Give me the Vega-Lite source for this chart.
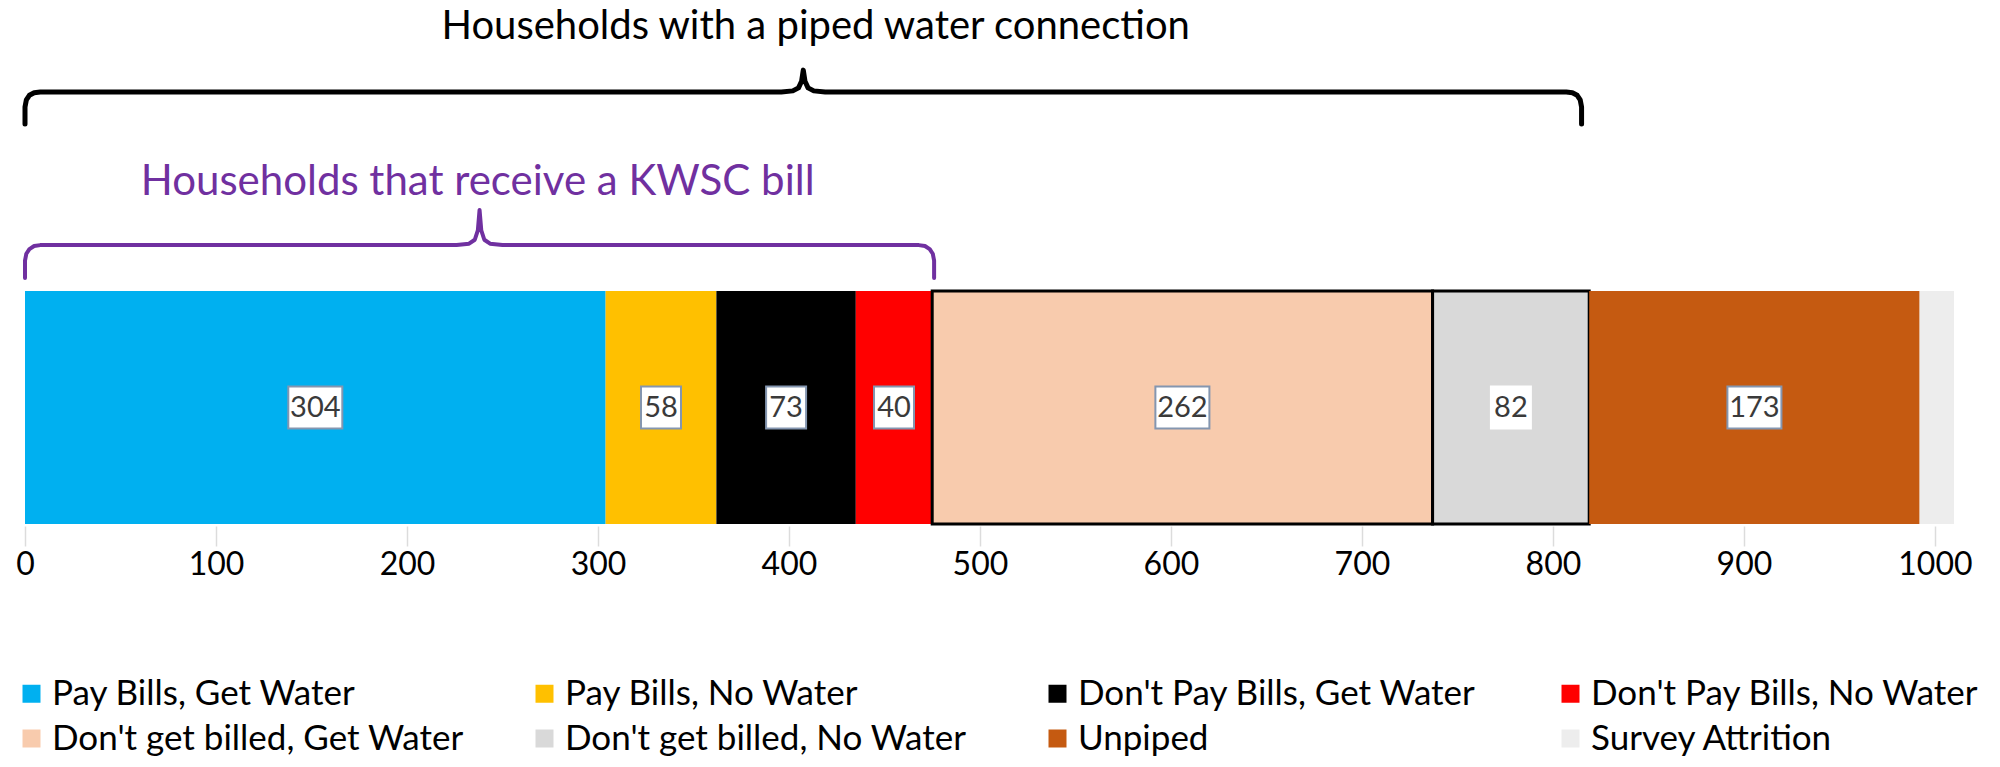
{
  "$schema": "https://vega.github.io/schema/vega-lite/v6.json",
  "width": 1929,
  "height": 524,
  "autosize": {"type": "none"},
  "padding": {"left": 25, "top": 0, "right": 46, "bottom": 243},
  "background": "white",
  "config": {"view": {"stroke": null}, "font": "Lato"},
  "datasets": {
    "segments": [
      {"cat": "Pay Bills, Get Water", "n": 304, "order": 1},
      {"cat": "Pay Bills, No Water", "n": 58, "order": 2},
      {"cat": "Don't Pay Bills, Get Water", "n": 73, "order": 3},
      {"cat": "Don't Pay Bills, No Water", "n": 40, "order": 4},
      {"cat": "Don't get billed, Get Water", "n": 262, "order": 5},
      {"cat": "Don't get billed, No Water", "n": 82, "order": 6},
      {"cat": "Unpiped", "n": 173, "order": 7},
      {"cat": "Survey Attrition", "n": 18, "order": 8}
    ],
    "braces": [
      {"brace": "piped", "i": 1, "x": 0, "lvl": 1.717},
      {"brace": "piped", "i": 2, "x": 0, "lvl": 1.79},
      {"brace": "piped", "i": 3, "x": 0.7, "lvl": 1.82},
      {"brace": "piped", "i": 4, "x": 2.3, "lvl": 1.84},
      {"brace": "piped", "i": 5, "x": 4.8, "lvl": 1.851},
      {"brace": "piped", "i": 6, "x": 8, "lvl": 1.854},
      {"brace": "piped", "i": 7, "x": 396, "lvl": 1.854},
      {"brace": "piped", "i": 8, "x": 402, "lvl": 1.859},
      {"brace": "piped", "i": 9, "x": 405, "lvl": 1.872},
      {"brace": "piped", "i": 10, "x": 406.6, "lvl": 1.9},
      {"brace": "piped", "i": 11, "x": 407.5, "lvl": 1.948},
      {"brace": "piped", "i": 12, "x": 408.4, "lvl": 1.9},
      {"brace": "piped", "i": 13, "x": 410, "lvl": 1.872},
      {"brace": "piped", "i": 14, "x": 413, "lvl": 1.859},
      {"brace": "piped", "i": 15, "x": 419, "lvl": 1.854},
      {"brace": "piped", "i": 16, "x": 807, "lvl": 1.854},
      {"brace": "piped", "i": 17, "x": 810.2, "lvl": 1.851},
      {"brace": "piped", "i": 18, "x": 812.7, "lvl": 1.84},
      {"brace": "piped", "i": 19, "x": 814.3, "lvl": 1.82},
      {"brace": "piped", "i": 20, "x": 815, "lvl": 1.79},
      {"brace": "piped", "i": 21, "x": 815, "lvl": 1.717},
      {"brace": "bill", "i": 1, "x": 0, "lvl": 1.056},
      {"brace": "bill", "i": 2, "x": 0, "lvl": 1.13},
      {"brace": "bill", "i": 3, "x": 0.7, "lvl": 1.16},
      {"brace": "bill", "i": 4, "x": 2.3, "lvl": 1.18},
      {"brace": "bill", "i": 5, "x": 4.8, "lvl": 1.193},
      {"brace": "bill", "i": 6, "x": 8, "lvl": 1.197},
      {"brace": "bill", "i": 7, "x": 226, "lvl": 1.197},
      {"brace": "bill", "i": 8, "x": 232.5, "lvl": 1.203},
      {"brace": "bill", "i": 9, "x": 235.5, "lvl": 1.22},
      {"brace": "bill", "i": 10, "x": 237.1, "lvl": 1.26},
      {"brace": "bill", "i": 11, "x": 238, "lvl": 1.348},
      {"brace": "bill", "i": 12, "x": 238.9, "lvl": 1.26},
      {"brace": "bill", "i": 13, "x": 240.5, "lvl": 1.22},
      {"brace": "bill", "i": 14, "x": 243.5, "lvl": 1.203},
      {"brace": "bill", "i": 15, "x": 250, "lvl": 1.197},
      {"brace": "bill", "i": 16, "x": 468, "lvl": 1.197},
      {"brace": "bill", "i": 17, "x": 471.2, "lvl": 1.193},
      {"brace": "bill", "i": 18, "x": 473.7, "lvl": 1.18},
      {"brace": "bill", "i": 19, "x": 475.3, "lvl": 1.16},
      {"brace": "bill", "i": 20, "x": 476, "lvl": 1.13},
      {"brace": "bill", "i": 21, "x": 476, "lvl": 1.056}
    ]
  },
  "layer": [
    {
      "data": {"name": "segments"},
      "transform": [
        {"stack": "n", "groupby": [], "sort": [{"field": "order"}], "as": ["x0", "x1"]}
      ],
      "mark": {"type": "rect"},
      "encoding": {
        "x": {
          "field": "x0",
          "type": "quantitative",
          "scale": {"domain": [0, 1010], "nice": false, "zero": true},
          "axis": {
            "orient": "bottom",
            "values": [0, 100, 200, 300, 400, 500, 600, 700, 800, 900, 1000],
            "format": "d",
            "title": null,
            "domain": false,
            "grid": false,
            "ticks": true,
            "tickColor": "#dcdcdc",
            "tickWidth": 1.5,
            "tickSize": 20,
            "offset": 2,
            "labelFont": "Lato",
            "labelFontSize": 32,
            "labelColor": "black",
            "labelPadding": 3,
            "labelFlush": false
          }
        },
        "x2": {"field": "x1"},
        "y": {"datum": 0, "type": "quantitative", "scale": {"domain": [0, 2.249], "nice": false}, "axis": null},
        "y2": {"datum": 1},
        "color": {
          "field": "cat",
          "type": "nominal",
          "scale": {
            "domain": [
              "Pay Bills, Get Water",
              "Pay Bills, No Water",
              "Don't Pay Bills, Get Water",
              "Don't Pay Bills, No Water",
              "Don't get billed, Get Water",
              "Don't get billed, No Water",
              "Unpiped",
              "Survey Attrition"
            ],
            "range": ["#00B0F0", "#FFC000", "#000000", "#FF0000", "#F8CBAD", "#D9D9D9", "#C55A11", "#EDEDED"]
          },
          "legend": {
            "title": null,
            "orient": "none",
            "legendX": -11,
            "legendY": 676,
            "direction": "horizontal",
            "columns": 4,
            "gridAlign": "all",
            "columnPadding": 63,
            "rowPadding": 9,
            "symbolType": "square",
            "symbolSize": 324,
            "labelFont": "Lato",
            "labelFontSize": 35,
            "labelColor": "black",
            "labelOffset": 3,
            "labelLimit": 700,
            "encode": {
              "symbols": {
                "update": {
                  "stroke": {"signal": "datum.value === \"Don't get billed, Get Water\" || datum.value === \"Don't get billed, No Water\" ? 'black' : 'transparent'"},
                  "strokeDash": {"value": [2, 2]},
                  "strokeWidth": {"value": 2}
                }
              }
            }
          }
        },
        "stroke": {
          "condition": {"test": "datum.order === 5 || datum.order === 6", "value": "black"},
          "value": null
        },
        "strokeDash": {
          "condition": {"test": "datum.order === 5 || datum.order === 6", "value": [2.5, 4]},
          "value": [1, 0]
        },
        "strokeWidth": {"value": 3}
      }
    },
    {
      "data": {"name": "segments"},
      "transform": [
        {"stack": "n", "groupby": [], "sort": [{"field": "order"}], "as": ["x0", "x1"]},
        {"filter": "datum.cat !== 'Survey Attrition'"},
        {"calculate": "(datum.x0 + datum.x1) / 2", "as": "mid"}
      ],
      "mark": {"type": "point", "filled": true, "fill": "white", "opacity": 1, "strokeWidth": 2, "size": 1764},
      "encoding": {
        "x": {"field": "mid", "type": "quantitative", "scale": {"domain": [0, 1010], "nice": false}},
        "y": {"datum": 0.5, "type": "quantitative"},
        "shape": {
          "condition": {"test": "datum.n >= 100", "value": "M-1.286,-1H1.286V1H-1.286Z"},
          "value": "M-0.952,-1H0.952V1H-0.952Z"
        },
        "stroke": {
          "condition": {"test": "datum.order === 6", "value": "white"},
          "value": "#8496B0"
        }
      }
    },
    {
      "data": {"name": "segments"},
      "transform": [
        {"stack": "n", "groupby": [], "sort": [{"field": "order"}], "as": ["x0", "x1"]},
        {"filter": "datum.cat !== 'Survey Attrition'"},
        {"calculate": "(datum.x0 + datum.x1) / 2", "as": "mid"}
      ],
      "mark": {"type": "text", "font": "Lato", "fontSize": 29, "color": "#3a3a3a", "baseline": "middle", "align": "center"},
      "encoding": {
        "x": {"field": "mid", "type": "quantitative"},
        "y": {"datum": 0.5, "type": "quantitative"},
        "text": {"field": "n", "type": "quantitative"}
      }
    },
    {
      "data": {"name": "braces"},
      "transform": [{"filter": "datum.brace === 'piped'"}],
      "mark": {"type": "line", "color": "black", "strokeWidth": 5, "strokeCap": "round", "strokeJoin": "round"},
      "encoding": {
        "x": {"field": "x", "type": "quantitative"},
        "y": {"field": "lvl", "type": "quantitative"},
        "order": {"field": "i"}
      }
    },
    {
      "data": {"name": "braces"},
      "transform": [{"filter": "datum.brace === 'bill'"}],
      "mark": {"type": "line", "color": "#7030A0", "strokeWidth": 4, "strokeCap": "round", "strokeJoin": "round"},
      "encoding": {
        "x": {"field": "x", "type": "quantitative"},
        "y": {"field": "lvl", "type": "quantitative"},
        "order": {"field": "i"}
      }
    },
    {
      "data": {"values": [{}]},
      "mark": {"type": "text", "text": "Households with a piped water connection", "font": "Lato", "fontSize": 40, "color": "black", "baseline": "middle", "align": "center"},
      "encoding": {
        "x": {"datum": 414, "type": "quantitative"},
        "y": {"datum": 2.135, "type": "quantitative"}
      }
    },
    {
      "data": {"values": [{}]},
      "mark": {"type": "text", "text": "Households that receive a KWSC bill", "font": "Lato", "fontSize": 42, "color": "#7030A0", "baseline": "middle", "align": "center"},
      "encoding": {
        "x": {"datum": 237, "type": "quantitative"},
        "y": {"datum": 1.468, "type": "quantitative"}
      }
    }
  ]
}
